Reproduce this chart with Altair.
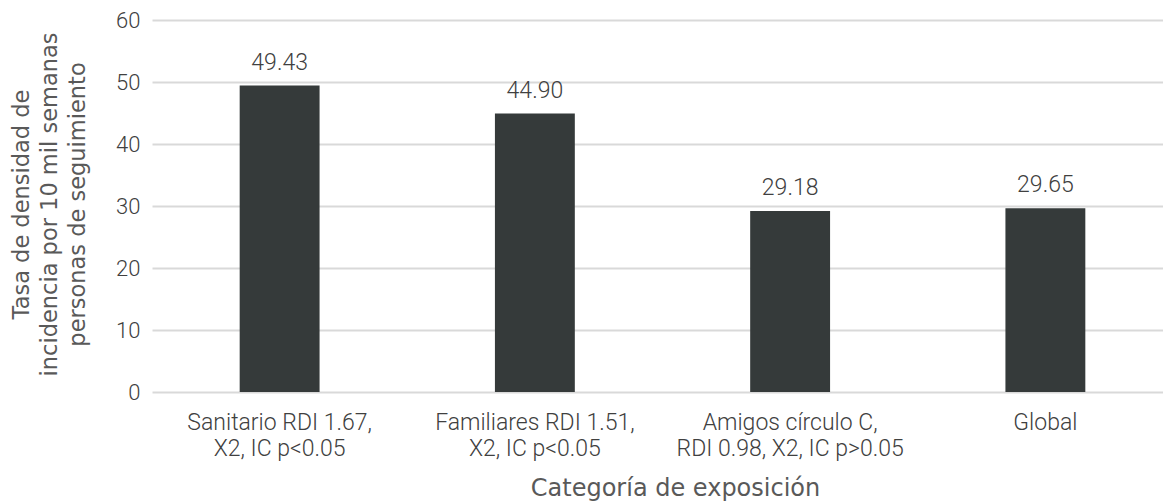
import altair as alt
import pandas as pd

# Exposure categories (two label lines each) and incidence density rates
line1 = ["Sanitario RDI 1.67,", "Familiares RDI 1.51,", "Amigos círculo C,", "Global"]
line2 = ["X2, IC p<0.05", "X2, IC p<0.05", "RDI 0.98, X2, IC p>0.05", ""]
rates = [49.43, 44.90, 29.18, 29.65]
y_ticks = [0, 10, 20, 30, 40, 50, 60]

categories = [a if not b else a + "|" + b for a, b in zip(line1, line2)]
df = pd.DataFrame({
    "categoria": categories,
    "tasa": rates,
    "etiqueta": [f"{v:.2f}" for v in rates],
})

LABEL_FONT = "Roboto"
TITLE_FONT = "DejaVu Sans"

x_enc = alt.X(
    "categoria:N",
    sort=categories,
    scale=alt.Scale(range=[0, 1021], paddingInner=0.687, paddingOuter=0.3435),
    axis=alt.Axis(
        title="Categoría de exposición",
        titleFont=TITLE_FONT,
        titleFontSize=24,
        titleFontWeight="normal",
        titleColor="#595959",
        titleX=523,
        titleY=103,
        titleAlign="center",
        titleBaseline="alphabetic",
        titleAnchor="start",
        labelExpr="split(datum.label, '|')",
        labelFont=LABEL_FONT,
        labelFontSize=23,
        labelFontWeight=300,
        labelColor="#404040",
        labelLineHeight=26,
        labelAngle=0,
        labelPadding=19,
        labelLimit=0,
        ticks=False,
        tickSize=0,
        domain=False,
        grid=False,
    ),
)

y_scale = alt.Scale(domain=[0, 60], nice=False)

bars = alt.Chart(df).mark_bar(color="#353a3a").encode(
    x=x_enc,
    y=alt.Y(
        "tasa:Q",
        scale=y_scale,
        axis=alt.Axis(
            values=y_ticks,
            title=["Tasa de densidad de", "incidencia por 10 mil semanas", "personas de seguimiento"],
            titleFont=TITLE_FONT,
            titleFontSize=22.5,
            titleFontWeight="normal",
            titleColor="#595959",
            titleLineHeight=28,
            titleAngle=270,
            titleX=-124,
            titleY=184,
            titleAlign="center",
            titleBaseline="alphabetic",
            labelFont=LABEL_FONT,
            labelFontSize=22,
            labelFontWeight=300,
            labelColor="#404040",
            labelPadding=12,
            ticks=False,
            tickSize=0,
            domain=False,
            grid=True,
            gridColor="#d9d9d9",
            gridWidth=2,
        ),
    ),
)

labels = alt.Chart(df).mark_text(
    font=LABEL_FONT,
    fontSize=23,
    fontWeight=300,
    color="#404040",
    baseline="alphabetic",
    align="center",
    dy=-16,
).encode(
    x=alt.X("categoria:N", sort=categories),
    y=alt.Y("tasa:Q", scale=y_scale),
    text="etiqueta:N",
)

chart = (
    alt.layer(bars, labels)
    .properties(
        width=1011,
        height=372,
        autosize=alt.AutoSizeParams(type="none"),
        padding={"left": 152, "top": 20, "right": 0, "bottom": 109},
        background="white",
    )
    .configure_view(stroke=None)
)

chart.save("out.html", embed_options={"renderer": "svg", "actions": False})
